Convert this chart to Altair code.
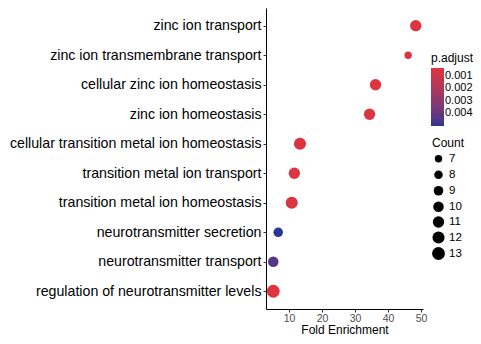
import altair as alt
import pandas as pd

terms = [
    "zinc ion transport",
    "zinc ion transmembrane transport",
    "cellular zinc ion homeostasis",
    "zinc ion homeostasis",
    "cellular transition metal ion homeostasis",
    "transition metal ion transport",
    "transition metal ion homeostasis",
    "neurotransmitter secretion",
    "neurotransmitter transport",
    "regulation of neurotransmitter levels",
]
fold_enrichment = [48.4, 46.1, 36.2, 34.4, 13.3, 11.6, 10.8, 6.7, 5.2, 5.2]
p_adjust = [0.0004, 0.0005, 0.0005, 0.0006, 0.0005, 0.0005, 0.0006, 0.0050, 0.0043, 0.0004]
counts = [11, 7, 11, 11, 12, 11, 12, 9, 10, 13]

df = pd.DataFrame({
    "Description": terms,
    "FoldEnrichment": fold_enrichment,
    "p_adjust": p_adjust,
    "Count": counts,
})

font = "Liberation Sans"

chart = alt.Chart(df).mark_circle(opacity=1).encode(
    x=alt.X("FoldEnrichment:Q", title="Fold Enrichment",
            scale=alt.Scale(domain=[3.0, 50.6], nice=False, zero=False),
            axis=alt.Axis(values=[10, 20, 30, 40, 50], grid=False, domainColor="black",
                          tickColor="#333333", tickSize=3, labelColor="#4D4D4D",
                          labelFontSize=10.5, labelFont=font, titleFont=font,
                          titleFontSize=12, titleFontWeight="normal", titleColor="black",
                          titlePadding=1, labelPadding=1)),
    y=alt.Y("Description:N", sort=terms, title=None,
            scale=alt.Scale(type="point", padding=0.6),
            axis=alt.Axis(grid=False, domainColor="black", tickColor="#333333", tickSize=3,
                          labelColor="black", labelFontSize=14.2, labelFont=font,
                          labelPadding=2, labelLimit=400)),
    color=alt.Color("p_adjust:Q",
                    scale=alt.Scale(domain=[0.0050, 0.00037], range=["#2D3592", "#E0343E"],
                                    interpolate="lab"),
                    legend=alt.Legend(title="p.adjust", values=[0.001, 0.002, 0.003, 0.004],
                                      format=".3f", gradientLength=58, gradientThickness=13,
                                      labelFontSize=11, titleFontSize=12, labelFont=font,
                                      titleFont=font, titleFontWeight="normal",
                                      titleColor="black", labelColor="black",
                                      direction="vertical", orient="none",
                                      legendX=165, legendY=45,
                                      titlePadding=3, labelOffset=1,
                                      gradientStrokeWidth=0)),
    size=alt.Size("Count:Q",
                  scale=alt.Scale(domain=[7, 13], range=[55, 165], zero=False),
                  legend=alt.Legend(title="Count", values=[7, 8, 9, 10, 11, 12, 13],
                                    labelFontSize=11.5, titleFontSize=12, labelFont=font,
                                    titleFont=font, titleFontWeight="normal",
                                    titleColor="black", labelColor="black",
                                    symbolFillColor="black", symbolStrokeWidth=0,
                                    symbolType="circle", orient="none",
                                    legendX=166, legendY=130,
                                    rowPadding=3, titlePadding=3)),
).properties(
    width=157,
    height=301,
    autosize=alt.AutoSizeParams(type="none"),
    padding={"left": 258, "top": 0, "right": 50, "bottom": 27},
).configure_view(stroke=None).configure_legend(titleAnchor="start")

chart.save("out.html", embed_options={"renderer": "svg", "actions": False})
